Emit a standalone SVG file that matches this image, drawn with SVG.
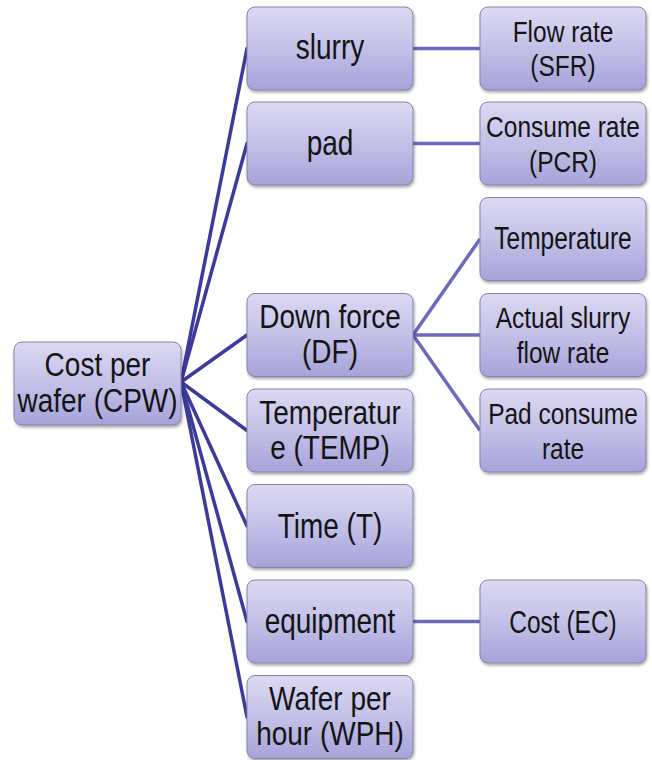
<svg xmlns="http://www.w3.org/2000/svg" width="652" height="760" viewBox="0 0 652 760">
<defs>
<linearGradient id="g" x1="0" y1="0" x2="0" y2="1">
<stop offset="0" stop-color="#dcd9f3"/>
<stop offset="0.5" stop-color="#c3c0e8"/>
<stop offset="1" stop-color="#a6a3d9"/>
</linearGradient>
<filter id="sh" x="-10%" y="-10%" width="125%" height="130%">
<feDropShadow dx="1" dy="2" stdDeviation="1.5" flood-color="#000" flood-opacity="0.35"/>
</filter>
<style>
.box{fill:url(#g);stroke:#8584a6;stroke-width:1;filter:url(#sh)}
text{font-family:"Liberation Sans",Arial,sans-serif;fill:#141414;text-anchor:middle}
.m{font-size:28px}
.r{font-size:24.5px}
.l1{stroke:#3c3a9c;stroke-width:3.5;fill:none;stroke-linecap:round}
.l2{stroke:#6a68bf;stroke-width:3.5;fill:none}
</style>
</defs>
<rect width="652" height="760" fill="#fff"/>
<g id="connectors">
<line class="l1" x1="181" y1="382" x2="247" y2="48.5"/>
<line class="l1" x1="181" y1="382" x2="247" y2="143.5"/>
<line class="l1" x1="181" y1="382" x2="247" y2="335"/>
<line class="l1" x1="181" y1="382" x2="247" y2="430.5"/>
<line class="l1" x1="181" y1="382" x2="247" y2="526"/>
<line class="l1" x1="181" y1="382" x2="247" y2="621.5"/>
<line class="l1" x1="181" y1="382" x2="247" y2="717"/>
<line class="l2" x1="413" y1="48.5" x2="480" y2="48.5"/>
<line class="l2" x1="413" y1="143.5" x2="480" y2="143.5"/>
<line class="l2" x1="413" y1="335" x2="480" y2="239"/>
<line class="l2" x1="413" y1="335" x2="480" y2="335"/>
<line class="l2" x1="413" y1="335" x2="480" y2="430.5"/>
<line class="l2" x1="413" y1="621.5" x2="480" y2="621.5"/>
</g>
<g id="cpw"><rect class="box" x="14" y="342" width="167" height="83" rx="8"/><text class="m" transform="translate(97.5,376) scale(1,1.2)">Cost per</text><text class="m" transform="translate(97.5,412) scale(1,1.2)">wafer (CPW)</text></g>
<g id="slurry"><rect class="box" x="247" y="7" width="166" height="83" rx="8"/><text class="m" transform="translate(330,59) scale(1,1.25)">slurry</text></g>
<g id="pad"><rect class="box" x="247" y="102" width="166" height="83" rx="8"/><text class="m" transform="translate(330,154.5) scale(1,1.25)">pad</text></g>
<g id="df"><rect class="box" x="247" y="293.5" width="166" height="83" rx="8"/><text class="m" transform="translate(330,328) scale(1,1.2)">Down force</text><text class="m" transform="translate(330,363) scale(1,1.2)">(DF)</text></g>
<g id="temp"><rect class="box" x="247" y="389" width="166" height="83" rx="8"/><text class="m" transform="translate(330,423.5) scale(1,1.2)">Temperatur</text><text class="m" transform="translate(330,458.5) scale(1,1.2)">e (TEMP)</text></g>
<g id="time"><rect class="box" x="247" y="484.5" width="166" height="83" rx="8"/><text class="m" transform="translate(330,537.5) scale(1,1.25)">Time (T)</text></g>
<g id="equipment"><rect class="box" x="247" y="580" width="166" height="83" rx="8"/><text class="m" transform="translate(330,632.5) scale(1,1.25)">equipment</text></g>
<g id="wph"><rect class="box" x="247" y="675.5" width="166" height="83" rx="8"/><text class="m" transform="translate(330,710) scale(1,1.2)">Wafer per</text><text class="m" transform="translate(330,745) scale(1,1.2)">hour (WPH)</text></g>
<g id="sfr"><rect class="box" x="480" y="7" width="166" height="83" rx="8"/><text class="r" transform="translate(563,41.5) scale(1,1.2)">Flow rate</text><text class="r" transform="translate(563,76) scale(1,1.2)">(SFR)</text></g>
<g id="pcr"><rect class="box" x="480" y="102" width="166" height="83" rx="8"/><text class="r" transform="translate(563,136.5) scale(1,1.2)">Consume rate</text><text class="r" transform="translate(563,171.5) scale(1,1.2)">(PCR)</text></g>
<g id="df-temp"><rect class="box" x="480" y="197.5" width="166" height="83" rx="8"/><text class="r" transform="translate(563,248.5) scale(1,1.25)">Temperature</text></g>
<g id="df-asfr"><rect class="box" x="480" y="293.5" width="166" height="83" rx="8"/><text class="r" transform="translate(563,328) scale(1,1.2)">Actual slurry</text><text class="r" transform="translate(563,363) scale(1,1.2)">flow rate</text></g>
<g id="df-pcr"><rect class="box" x="480" y="389" width="166" height="83" rx="8"/><text class="r" transform="translate(563,423.5) scale(1,1.2)">Pad consume</text><text class="r" transform="translate(563,458.5) scale(1,1.2)">rate</text></g>
<g id="ec"><rect class="box" x="480" y="580" width="166" height="83" rx="8"/><text class="r" transform="translate(563,632.5) scale(1,1.25)">Cost (EC)</text></g>
</svg>
